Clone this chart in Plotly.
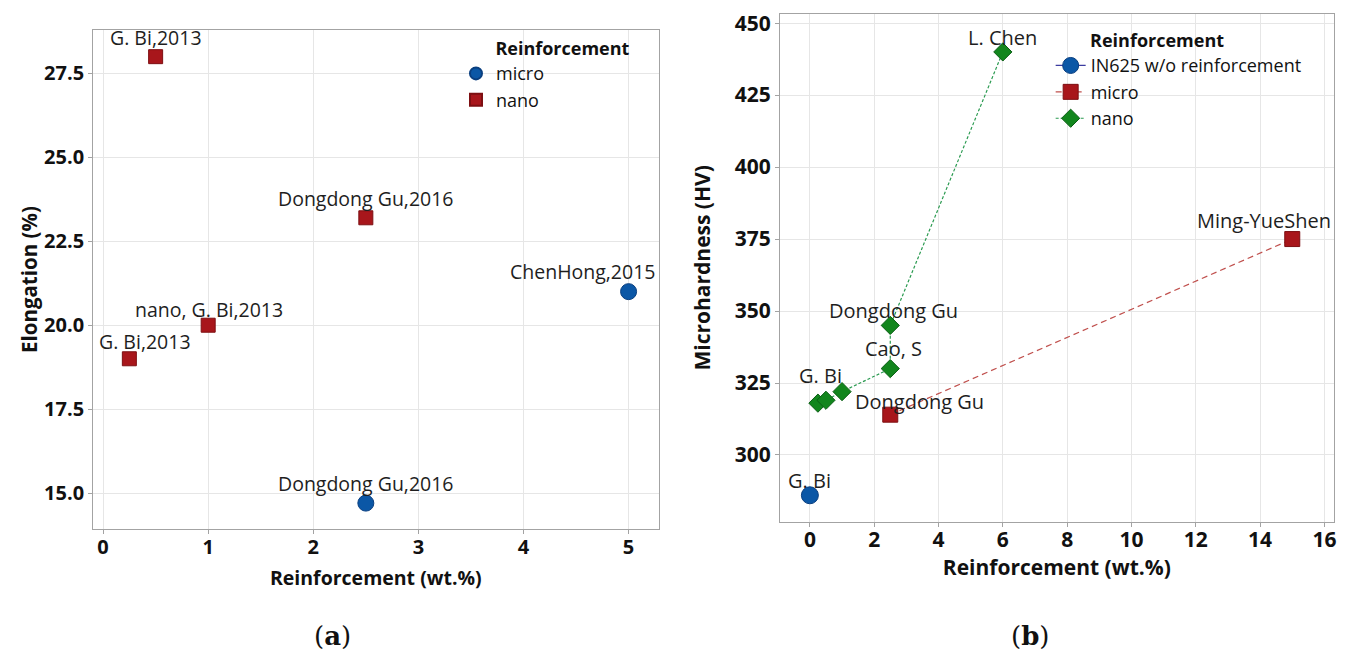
import plotly.graph_objects as go

# ---------------- data ----------------
# (a) elongation vs reinforcement content
a_micro_x = [5.0, 2.5]
a_micro_y = [21.0, 14.7]
a_micro_lbl = ["ChenHong,2015", "Dongdong Gu,2016"]

a_nano_x = [0.5, 2.5, 1.0, 0.25]
a_nano_y = [28.0, 23.2, 20.0, 19.0]
a_nano_lbl = ["G. Bi,2013", "Dongdong Gu,2016", "nano, G. Bi,2013", "G. Bi,2013"]

a_xticks = [0, 1, 2, 3, 4, 5]
a_yticks = [15.0, 17.5, 20.0, 22.5, 25.0, 27.5]

# (b) microhardness vs reinforcement content
b_base_x = [0.0]
b_base_y = [286]
b_base_lbl = ["G. Bi"]

b_micro_x = [2.5, 15.0]
b_micro_y = [314, 375]
b_micro_lbl = ["Dongdong Gu", "Ming-YueShen"]

b_nano_x = [0.25, 0.5, 1.0, 2.5, 2.5, 6.0]
b_nano_y = [318, 319, 322, 330, 345, 440]
b_nano_lbl = ["", "G. Bi", "", "Cao, S", "Dongdong Gu", "L. Chen"]

b_xticks = [0, 2, 4, 6, 8, 10, 12, 14, 16]
b_yticks = [300, 325, 350, 375, 400, 425, 450]

# ---------------- styling ----------------
W, H = 1354, 661
BLUE, BLUE_EDGE = "#0b57a6", "#0a3f80"
RED, RED_EDGE = "#a8161b", "#7d0f12"
GREEN, GREEN_EDGE = "#12861d", "#0b5e14"
GRID = "#e6e6e6"
FRAME = "#a3a3a3"
TXT = "#1e1e1e"
INK = "#111111"
FONT = "Open Sans"

# label offsets in pixels (dx, dy) relative to each point
a_micro_off = [(-46, 20), (0, 20)]
a_nano_off = [(0, 19), (0, 19), (1, 16), (16, 17)]
b_base_off = [(0, 15)]
b_micro_off = [(29, 13), (-28, 19)]
b_nano_off = [(0, 0), (-5, 25), (0, 0), (3, 20), (3, 15), (0, 14)]


def px_x(p):
    return p / W


def px_y(p):
    return 1 - p / H


fig = go.Figure()

# ---- panel (a) ----
fig.add_trace(go.Scatter(
    x=a_micro_x, y=a_micro_y, mode="markers", name="micro",
    marker=dict(symbol="circle", size=16, color=BLUE, line=dict(color=BLUE_EDGE, width=1)),
    xaxis="x", yaxis="y", legend="legend"))
fig.add_trace(go.Scatter(
    x=a_nano_x, y=a_nano_y, mode="markers", name="nano",
    marker=dict(symbol="square", size=14, color=RED, line=dict(color=RED_EDGE, width=1)),
    xaxis="x", yaxis="y", legend="legend"))

# ---- panel (b) ----
fig.add_trace(go.Scatter(
    x=b_base_x, y=b_base_y, mode="lines+markers", name="IN625 w/o reinforcement",
    line=dict(color="#3c3ca0", width=1.2),
    marker=dict(symbol="circle", size=17, color=BLUE, line=dict(color=BLUE_EDGE, width=1)),
    xaxis="x2", yaxis="y2", legend="legend2"))
fig.add_trace(go.Scatter(
    x=b_micro_x, y=b_micro_y, mode="lines+markers", name="micro",
    line=dict(color="#c0504d", width=1.2, dash="6px,4px"),
    marker=dict(symbol="square", size=15, color=RED, line=dict(color=RED_EDGE, width=1)),
    xaxis="x2", yaxis="y2", legend="legend2"))
fig.add_trace(go.Scatter(
    x=b_nano_x, y=b_nano_y, mode="lines+markers", name="nano",
    line=dict(color="#2a9a50", width=1.2, dash="3px,2px"),
    marker=dict(symbol="diamond", size=14, color=GREEN, line=dict(color=GREEN_EDGE, width=1)),
    xaxis="x2", yaxis="y2", legend="legend2"))

# point labels
annotations = []


def add_labels(xs, ys, labels, offsets, xref, yref, size):
    for xv, yv, t, (dx, dy) in zip(xs, ys, labels, offsets):
        if not t:
            continue
        annotations.append(dict(
            x=xv, y=yv, xref=xref, yref=yref, text=t, showarrow=False,
            xanchor="center", yanchor="middle", xshift=dx, yshift=dy,
            font=dict(family=FONT, size=size, color=TXT)))


add_labels(a_micro_x, a_micro_y, a_micro_lbl, a_micro_off, "x", "y", 19.5)
add_labels(a_nano_x, a_nano_y, a_nano_lbl, a_nano_off, "x", "y", 19.5)
add_labels(b_base_x, b_base_y, b_base_lbl, b_base_off, "x2", "y2", 20)
add_labels(b_micro_x, b_micro_y, b_micro_lbl, b_micro_off, "x2", "y2", 20)
add_labels(b_nano_x, b_nano_y, b_nano_lbl, b_nano_off, "x2", "y2", 20)

# panel captions
for cx, letter in [(333, "a"), (1033, "b")]:
    annotations.append(dict(
        x=px_x(cx), y=px_y(636), xref="paper", yref="paper",
        text="(<b>%s</b>)" % letter, showarrow=False,
        xanchor="center", yanchor="middle",
        font=dict(family="DejaVu Serif", size=26, color=INK)))


def axis_style(tick_size, label_gap=0):
    return dict(
        showgrid=True, gridcolor=GRID, gridwidth=1, zeroline=False,
        showline=True, linecolor=FRAME, linewidth=1, mirror=True,
        ticks="outside", ticklen=4, tickcolor=FRAME,
        ticklabelstandoff=label_gap,
        tickfont=dict(family=FONT, size=tick_size, color=INK, weight="bold"),
    )


def title_font(size):
    return dict(family=FONT, size=size, color=INK, weight="bold")


def legend_style(sizing):
    return dict(
        xanchor="left", yanchor="top",
        bgcolor="rgba(0,0,0,0)", borderwidth=0,
        itemsizing=sizing,
        title=dict(text="\u00a0" * 8 + "<b>Reinforcement</b>",
                   font=dict(family=FONT, size=18, color=INK)),
        font=dict(family=FONT, size=18, color=INK),
        tracegroupgap=0,
    )


fig.update_layout(
    width=W, height=H,
    margin=dict(l=0, r=0, t=0, b=0),
    paper_bgcolor="white", plot_bgcolor="white",
    showlegend=True,
    xaxis=dict(axis_style(20, -4), domain=[px_x(93.3), px_x(660)], range=[-0.095, 5.285],
               tickvals=a_xticks, anchor="y",
               title=dict(text="Reinforcement (wt.%)", font=title_font(19.5), standoff=12)),
    yaxis=dict(axis_style(20), domain=[px_y(528.3), px_y(25)], range=[13.92, 28.8],
               tickvals=a_yticks, tickformat=".1f", anchor="x",
               title=dict(text="Elongation (%)", font=title_font(20.5), standoff=0)),
    xaxis2=dict(axis_style(21, -5), domain=[px_x(781.7), px_x(1336.7)], range=[-0.93, 16.29],
                tickvals=b_xticks, anchor="y2",
                title=dict(text="Reinforcement (wt.%)", font=title_font(21), standoff=2)),
    yaxis2=dict(axis_style(21), domain=[px_y(520.7), px_y(9)], range=[276.8, 453.2],
                tickvals=b_yticks, anchor="x2",
                title=dict(text="Microhardness (HV)", font=title_font(21), standoff=18)),
    legend=dict(legend_style("constant"), x=px_x(457), y=px_y(27)),
    legend2=dict(legend_style("trace"), x=px_x(1053), y=px_y(19)),
    annotations=annotations,
)

fig.write_html("out.html")
